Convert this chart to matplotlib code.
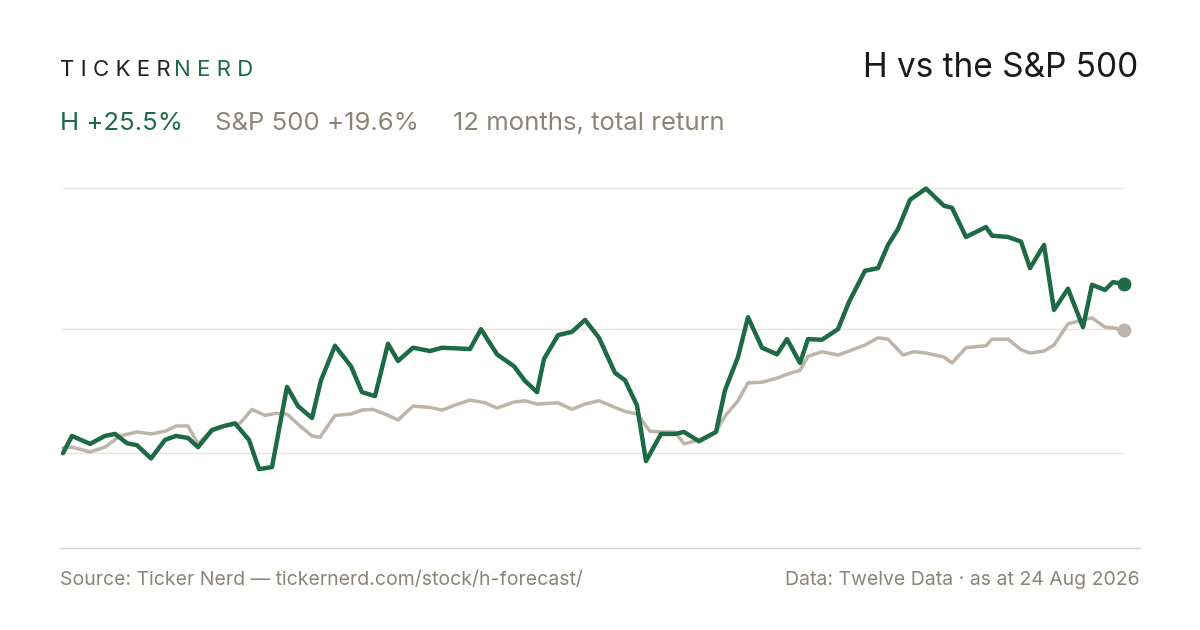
import matplotlib
matplotlib.use("Agg")
import matplotlib.pyplot as plt
from matplotlib.lines import Line2D

t_h = [0,9,27,42,52,64,74,88,102,113,125,135,149,161,172,186,196,209,224,235,249,258,272,288,299,312,325,335,350,367,379,407,418,434,451,462,474,481,495,509,522,536,552,562,574,583,598,612,621,636,653,662,675,685,699,714,724,737,745,759,775,786,802,815,825,835,847,863,881,889,903,923,929,945,958,967,981,991,1005,1020,1029,1042,1050,1061]
h = [0,2.6,1.4,2.6,2.9,1.5,1.2,-0.8,2.0,2.6,2.3,0.9,3.5,4.1,4.5,2.0,-2.4,-2.1,10.0,7.1,5.3,11.0,16.2,13.1,9.2,8.6,16.5,13.9,15.9,15.4,15.9,15.7,18.7,14.9,13.1,10.9,9.2,14.2,17.8,18.3,20.1,17.4,12.1,11.0,7.2,-1.2,2.9,2.9,3.2,1.8,3.2,9.5,14.5,20.5,15.9,14.9,17.2,13.6,17.2,17.1,18.7,22.8,27.5,27.9,31.4,33.8,38.2,39.9,37.3,37.0,32.6,34.1,32.8,32.6,31.9,27.9,31.4,21.6,24.8,19.0,25.4,24.6,25.8,25.5]
t_s = [0,9,27,42,57,74,88,102,113,125,135,147,161,177,189,202,213,224,237,249,257,272,288,299,310,325,335,350,367,379,395,407,422,434,451,462,474,495,509,522,536,552,562,574,587,598,612,621,636,653,662,675,685,699,714,724,737,745,759,775,786,802,815,825,840,851,863,881,889,903,923,929,945,958,967,981,991,1005,1020,1029,1042,1050,1061]
sp = [0.8,0.9,0.2,0.9,2.6,3.2,2.9,3.3,4.1,4.1,1.4,3.2,4.1,4.5,6.6,5.7,6.0,5.9,4.1,2.6,2.4,5.7,5.9,6.5,6.6,5.7,5.0,7.1,6.9,6.5,7.4,8.0,7.6,6.8,7.7,7.9,7.4,7.6,6.6,7.4,7.9,6.9,6.3,5.9,3.3,3.2,3.2,1.4,2.0,3.2,5.6,7.9,10.6,10.7,11.3,11.9,12.5,14.6,15.3,14.8,15.4,16.3,17.4,17.2,14.8,15.3,15.1,14.5,13.6,15.9,16.2,17.2,17.2,15.6,15.1,15.4,16.3,19.5,20.1,20.4,19.0,18.9,18.6]
grid_vals = [0, 18.7, 40]

GREEN = "#1d6a44"; GREY = "#bdb5a9"; TXT = "#8a8577"
W, H = 1200, 630
fig = plt.figure(figsize=(12, 6.3), dpi=100)
fig.patch.set_facecolor("white")
ax = fig.add_axes([63/W, 1-548/H, (1124-63)/W, (548-170)/H])
ax.set_xlim(0, 1061); ax.set_ylim(-14.3, 42.7)
for g in grid_vals:
    ax.axhline(g, color="#e6e4df", lw=1, zorder=0)
ax.plot(t_s, sp, color=GREY, lw=2.5, solid_capstyle="round", zorder=2, clip_on=False)
ax.plot(t_h, h, color=GREEN, lw=3.2, solid_capstyle="round", zorder=3, clip_on=False)
ax.plot(t_s[-1], sp[-1], "o", color=GREY, ms=9, zorder=4, clip_on=False)
ax.plot(t_h[-1], h[-1], "o", color=GREEN, ms=9, zorder=5, clip_on=False)
ax.axis("off")
fig.add_artist(Line2D([60/W, 1140/W], [1-548/H]*2, color="#d9d6cf", lw=1))

ff = "Inter"
fig.text(60/W, 1-70/H, "T I C K E R", fontsize=16, color="#222222", va="center", family=ff)
fig.text(174/W, 1-70/H, "N E R D", fontsize=16, color=GREEN, va="center", family=ff)
fig.text(1138/W, 1-68/H, "H vs the S&P 500", fontsize=24, color="#1a1a1a", va="center", ha="right", family=ff)
fig.text(60/W, 1-124/H, "H +25.5%", fontsize=18.5, color=GREEN, va="center", family=ff)
fig.text(215/W, 1-124/H, "S&P 500 +19.6%", fontsize=18.5, color=TXT, va="center", family=ff)
fig.text(453/W, 1-124/H, "12 months, total return", fontsize=18.5, color=TXT, va="center", family=ff)
fig.text(60/W, 1-580/H, "Source: Ticker Nerd — tickernerd.com/stock/h-forecast/", fontsize=14, color=TXT, va="center", family=ff)
fig.text(1140/W, 1-580/H, "Data: Twelve Data · as at 24 Aug 2026", fontsize=14, color=TXT, va="center", ha="right", family=ff)
fig.savefig("out.png", dpi=100)
